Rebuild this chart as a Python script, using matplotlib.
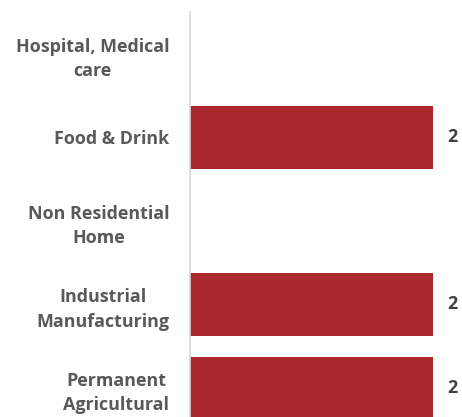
import matplotlib.pyplot as plt

categories = ['Hospital, Medical\ncare', 'Food & Drink', 'Non Residential\nHome',
              'Industrial\nManufacturing', 'Permanent\nAgricultural']
counts = [0, 2, 0, 2, 2]

plt.rcParams['font.family'] = ['Open Sans', 'DejaVu Sans']

fig = plt.figure(figsize=(4.62, 4.17), dpi=100)
# axes runs off the bottom of the figure, so the last bar is cut
ax = fig.add_axes([190 / 462, 0, (433 - 190) / 462, (417 - 12) / 417])

y = list(range(len(categories)))
ax.barh(y, counts, height=0.75, color='#AB282C')

ax.set_xlim(0, 2)
ax.set_ylim((417 - 54) / 83.5, -0.5)

ax.set_yticks(y)
ax.set_yticklabels(categories, fontsize=12.9, fontweight='bold', color='#595959',
                   multialignment='center', linespacing=1.45)
ax.tick_params(axis='y', length=0, pad=15)
ax.set_xticks([])

for s in ['top', 'right', 'bottom']:
    ax.spines[s].set_visible(False)
ax.spines['left'].set_color('#D9D9D9')
ax.spines['left'].set_linewidth(1.2)

for yi, v in zip(y, counts):
    if v:
        ax.text(v + 0.16, yi, str(v), va='center', ha='center', fontsize=12.9,
                fontweight='bold', color='#404040', clip_on=False)

fig.savefig('out.png', dpi=100)
